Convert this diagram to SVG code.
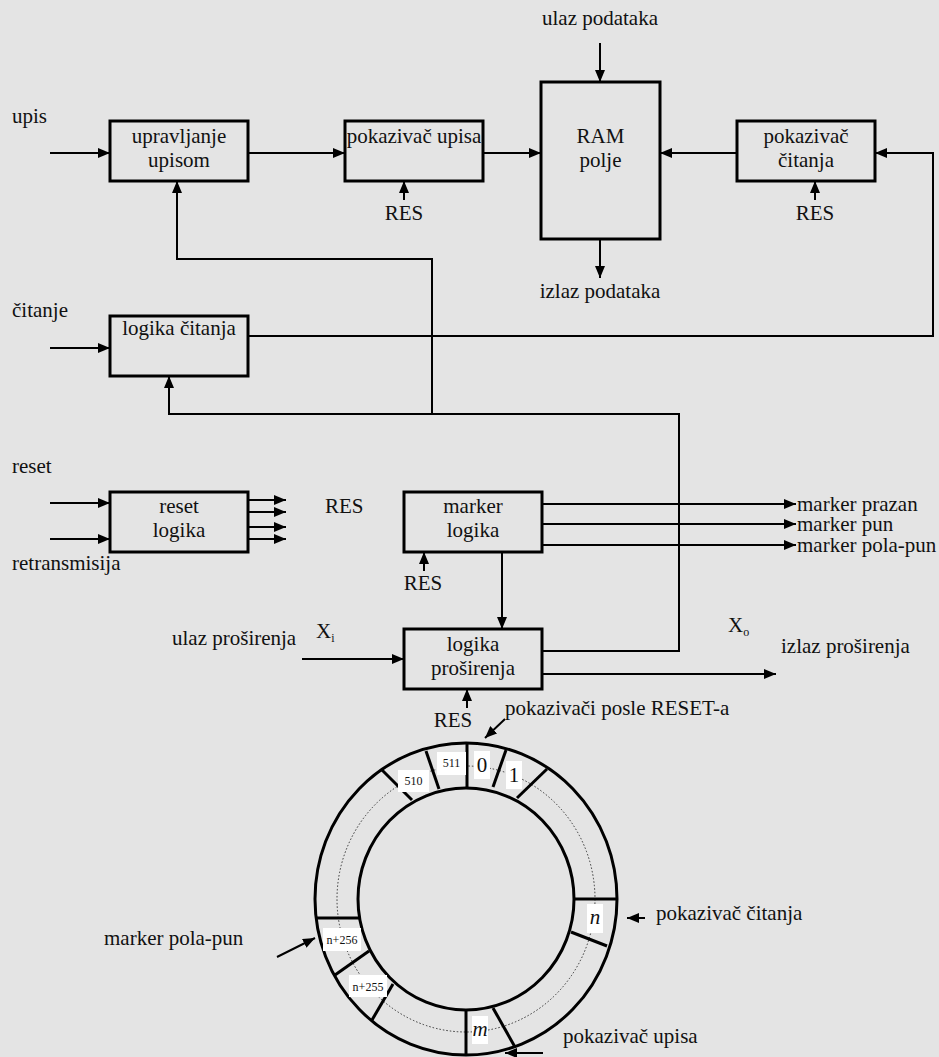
<svg xmlns="http://www.w3.org/2000/svg" width="939" height="1057" viewBox="0 0 939 1057">
<defs>
<style>
.t{font-family:"Liberation Serif","Times New Roman",serif;font-size:21px;fill:#111}
.s{font-family:"Liberation Serif","Times New Roman",serif;font-size:12px;fill:#111}
.box{fill:none;stroke:#000;stroke-width:3}
.ln{fill:none;stroke:#000;stroke-width:2}
.ring{fill:none;stroke:#000;stroke-width:3}
.dot{fill:none;stroke:#333;stroke-width:1;stroke-dasharray:1.5 2}
.lab{fill:#fff;stroke:none}
</style>
<marker id="ah" markerWidth="12" markerHeight="10" refX="12" refY="5" orient="auto" markerUnits="userSpaceOnUse"><path d="M0,0 L12,5 L0,10 z" fill="#000"/></marker>
</defs>
<rect width="939" height="1057" fill="#e4e4e4"/>

<g id="connectors">
<line class="ln" x1="50" y1="153" x2="110" y2="153" marker-end="url(#ah)"/>
<line class="ln" x1="248" y1="153" x2="345" y2="153" marker-end="url(#ah)"/>
<line class="ln" x1="483" y1="153" x2="541" y2="153" marker-end="url(#ah)"/>
<line class="ln" x1="737" y1="153" x2="660" y2="153" marker-end="url(#ah)"/>
<line class="ln" x1="600" y1="43" x2="600" y2="82" marker-end="url(#ah)"/>
<line class="ln" x1="600" y1="239" x2="600" y2="278" marker-end="url(#ah)"/>
<line class="ln" x1="404" y1="200" x2="404" y2="181" marker-end="url(#ah)"/>
<line class="ln" x1="815" y1="200" x2="815" y2="181" marker-end="url(#ah)"/>
<polyline class="ln" points="248,336 933,336 933,153 875,153" marker-end="url(#ah)"/>
<line class="ln" x1="50" y1="348" x2="110" y2="348" marker-end="url(#ah)"/>
<polyline class="ln" points="542,651 679,651 679,414 169,414 169,376" marker-end="url(#ah)"/>
<polyline class="ln" points="432,414 432,259 177,259 177,181" marker-end="url(#ah)"/>
<line class="ln" x1="50" y1="503" x2="110" y2="503" marker-end="url(#ah)"/>
<line class="ln" x1="50" y1="539" x2="110" y2="539" marker-end="url(#ah)"/>
<line class="ln" x1="248" y1="500" x2="286" y2="500" marker-end="url(#ah)"/>
<line class="ln" x1="248" y1="512" x2="286" y2="512" marker-end="url(#ah)"/>
<line class="ln" x1="248" y1="527" x2="286" y2="527" marker-end="url(#ah)"/>
<line class="ln" x1="248" y1="539" x2="286" y2="539" marker-end="url(#ah)"/>
<line class="ln" x1="542" y1="504" x2="796" y2="504" marker-end="url(#ah)"/>
<line class="ln" x1="542" y1="524" x2="796" y2="524" marker-end="url(#ah)"/>
<line class="ln" x1="542" y1="545" x2="796" y2="545" marker-end="url(#ah)"/>
<line class="ln" x1="424" y1="571" x2="424" y2="552" marker-end="url(#ah)"/>
<line class="ln" x1="502" y1="552" x2="502" y2="629" marker-end="url(#ah)"/>
<line class="ln" x1="302" y1="659" x2="404" y2="659" marker-end="url(#ah)"/>
<line class="ln" x1="542" y1="674" x2="776" y2="674" marker-end="url(#ah)"/>
<line class="ln" x1="467" y1="708" x2="467" y2="689" marker-end="url(#ah)"/>
<line class="ln" x1="505" y1="719" x2="485" y2="738" marker-end="url(#ah)"/>
<line class="ln" x1="645" y1="918" x2="627" y2="918" marker-end="url(#ah)"/>
<line class="ln" x1="277" y1="957" x2="315" y2="938" marker-end="url(#ah)"/>
<line class="ln" x1="543" y1="1053" x2="505" y2="1053" marker-end="url(#ah)"/>
</g>

<g id="upravljanje-upisom">
<rect class="box" x="110" y="121" width="138" height="60"/>
<text class="t" x="179" y="143" text-anchor="middle">upravljanje</text>
<text class="t" x="179" y="167" text-anchor="middle">upisom</text>
</g>
<g id="pokazivac-upisa">
<rect class="box" x="345" y="121" width="138" height="60"/>
<text class="t" x="414" y="143" text-anchor="middle">pokazivač upisa</text>
<text class="t" x="404" y="220" text-anchor="middle">RES</text>
</g>
<g id="ram-polje">
<rect class="box" x="541" y="82" width="119" height="157"/>
<text class="t" x="600.5" y="143" text-anchor="middle">RAM</text>
<text class="t" x="600.5" y="167" text-anchor="middle">polje</text>
<text class="t" x="600" y="25" text-anchor="middle">ulaz podataka</text>
<text class="t" x="600" y="298" text-anchor="middle">izlaz podataka</text>
</g>
<g id="pokazivac-citanja">
<rect class="box" x="737" y="121" width="138" height="60"/>
<text class="t" x="806" y="143" text-anchor="middle">pokazivač</text>
<text class="t" x="806" y="167" text-anchor="middle">čitanja</text>
<text class="t" x="815" y="220" text-anchor="middle">RES</text>
</g>
<g id="logika-citanja">
<rect class="box" x="110" y="316" width="138" height="60"/>
<text class="t" x="179" y="335" text-anchor="middle">logika čitanja</text>
</g>
<g id="reset-logika">
<rect class="box" x="110" y="492" width="138" height="60"/>
<text class="t" x="179" y="513" text-anchor="middle">reset</text>
<text class="t" x="179" y="537" text-anchor="middle">logika</text>
<text class="t" x="325" y="513">RES</text>
</g>
<g id="marker-logika">
<rect class="box" x="404" y="492" width="138" height="60"/>
<text class="t" x="473" y="513" text-anchor="middle">marker</text>
<text class="t" x="473" y="537" text-anchor="middle">logika</text>
<text class="t" x="423" y="590" text-anchor="middle">RES</text>
</g>
<g id="logika-prosirenja">
<rect class="box" x="404" y="629" width="138" height="60"/>
<text class="t" x="473" y="651" text-anchor="middle">logika</text>
<text class="t" x="473" y="675" text-anchor="middle">proširenja</text>
<text class="t" x="453" y="727" text-anchor="middle">RES</text>
</g>

<g id="labels">
<text class="t" x="12" y="123">upis</text>
<text class="t" x="12" y="317">čitanje</text>
<text class="t" x="12" y="473">reset</text>
<text class="t" x="12" y="570">retransmisija</text>
<text class="t" x="797" y="511">marker prazan</text>
<text class="t" x="797" y="531">marker pun</text>
<text class="t" x="797" y="552">marker pola-pun</text>
<text class="t" x="316" y="638">X<tspan font-size="12" dy="4">i</tspan></text>
<text class="t" x="172" y="645">ulaz proširenja</text>
<text class="t" x="728" y="632">X<tspan font-size="12" dy="4">o</tspan></text>
<text class="t" x="781" y="653">izlaz proširenja</text>
<text class="t" x="505" y="715">pokazivači posle RESET-a</text>
<text class="t" x="656" y="920">pokazivač čitanja</text>
<text class="t" x="104" y="945">marker pola-pun</text>
<text class="t" x="563" y="1043">pokazivač upisa</text>
</g>

<g id="ring">
<ellipse class="dot" cx="466" cy="899" rx="129" ry="133"/>
<ellipse class="ring" cx="466" cy="899" rx="151" ry="156"/>
<ellipse class="ring" cx="466" cy="899" rx="108" ry="111"/>
<g stroke="#000" stroke-width="3">
<line x1="467" y1="743" x2="467" y2="788"/>
<line x1="426" y1="751" x2="439" y2="789"/>
<line x1="382" y1="770" x2="412" y2="800"/>
<line x1="506" y1="750" x2="493" y2="787"/>
<line x1="547" y1="769" x2="517" y2="798"/>
<line x1="573" y1="899" x2="617" y2="899"/>
<line x1="571" y1="932" x2="607" y2="946"/>
<line x1="466" y1="1010" x2="466" y2="1055"/>
<line x1="493" y1="1008" x2="515" y2="1047"/>
<line x1="317" y1="918" x2="359" y2="918"/>
<line x1="335" y1="975" x2="369" y2="951"/>
<line x1="372" y1="1020" x2="393" y2="984"/>
</g>
<rect class="lab" x="437" y="752" width="29" height="23"/>
<text class="s" x="451.5" y="767" text-anchor="middle">511</text>
<rect class="lab" x="474" y="751" width="16" height="28"/>
<text class="t" x="482" y="772" text-anchor="middle">0</text>
<rect class="lab" x="506" y="761" width="16" height="28"/>
<text class="t" x="514" y="782" text-anchor="middle">1</text>
<rect class="lab" x="398" y="770" width="31" height="22"/>
<text class="s" x="413.5" y="785" text-anchor="middle">510</text>
<rect class="lab" x="587" y="904" width="16" height="29"/>
<text class="t" x="595" y="924" text-anchor="middle" font-style="italic">n</text>
<rect class="lab" x="323" y="928" width="38" height="23"/>
<text class="s" x="342" y="944" text-anchor="middle" font-size="13">n+256</text>
<rect class="lab" x="349" y="975" width="38" height="22"/>
<text class="s" x="368" y="991" text-anchor="middle" font-size="13">n+255</text>
<rect class="lab" x="472" y="1016" width="16" height="28"/>
<text class="t" x="480" y="1036" text-anchor="middle" font-style="italic">m</text>
</g>
</svg>
